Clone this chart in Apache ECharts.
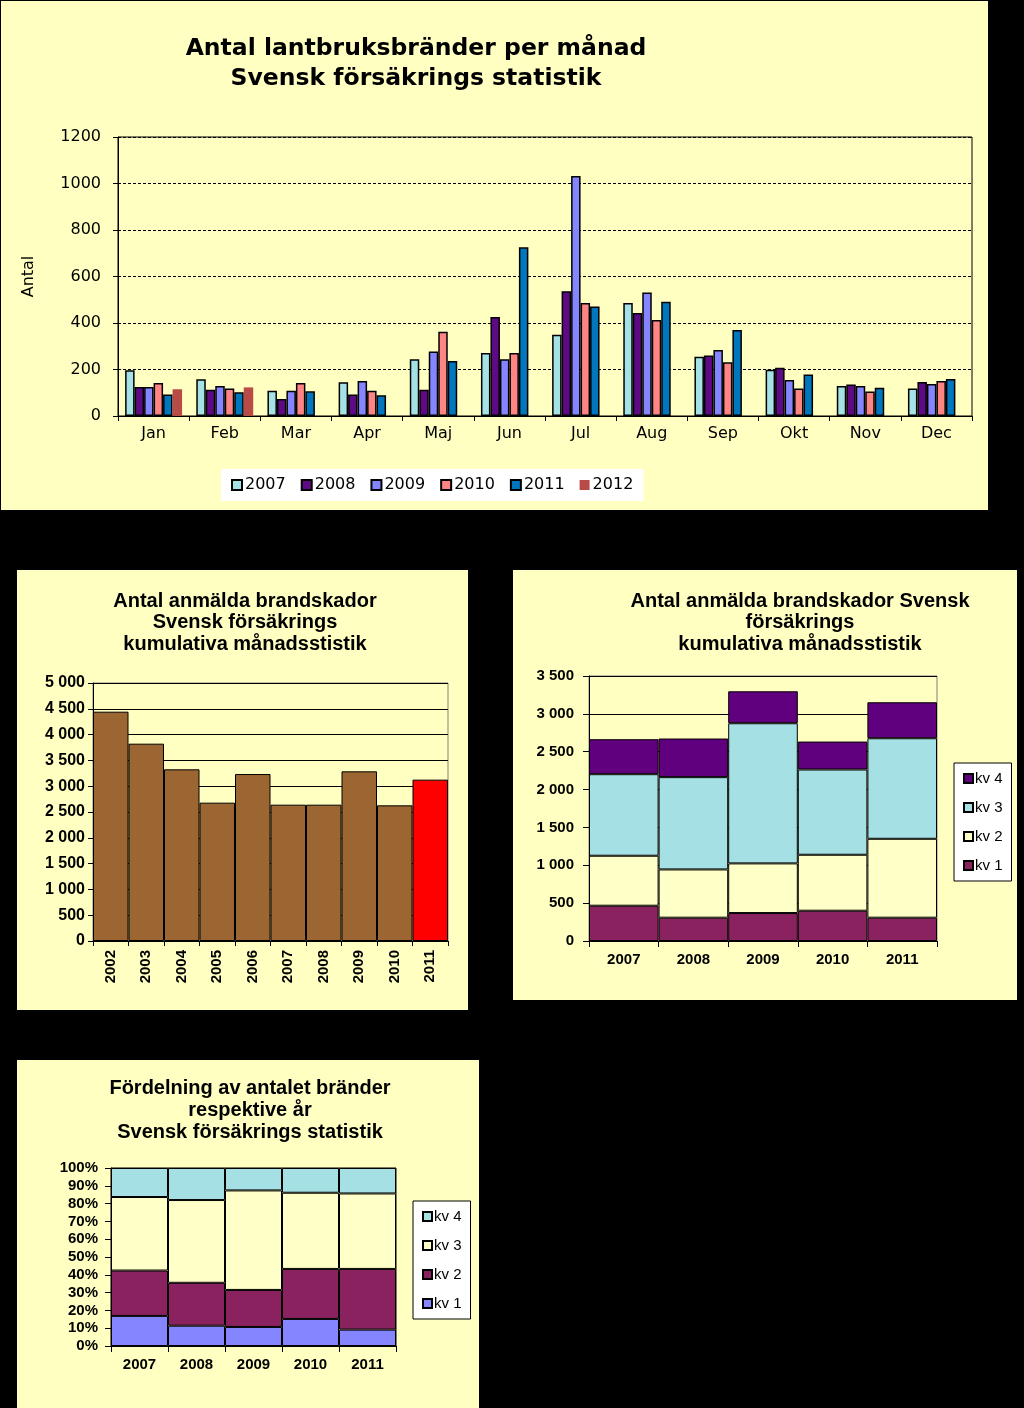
<!DOCTYPE html>
<html><head><meta charset="utf-8">
<script src="https://cdn.jsdelivr.net/npm/echarts@6/dist/echarts.min.js"></script>
<style>
html,body{margin:0;padding:0;background:#000;width:1024px;height:1408px;overflow:hidden}
.p{position:absolute;}
</style></head><body>
<div id="c1" class="p" style="left:1px;top:1px;width:987px;height:509px"></div>
<div id="c2" class="p" style="left:17px;top:570px;width:451px;height:440px"></div>
<div id="c3" class="p" style="left:513px;top:570px;width:504px;height:430px"></div>
<div id="c4" class="p" style="left:17px;top:1060px;width:462px;height:348px"></div>
<script>
// ---------- data: chart 1 ----------
const months = ['Jan','Feb','Mar','Apr','Maj','Jun','Jul','Aug','Sep','Okt','Nov','Dec'];
const years1 = ['2007','2008','2009','2010','2011','2012'];
const v2007 = [197,158,109,145,244,271,349,486,255,199,129,118];
const v2008 = [125,113,73,93,113,426,537,443,260,207,135,146];
const v2009 = [125,129,109,151,277,244,1032,531,284,155,129,138];
const v2010 = [142,118,142,109,362,271,486,413,231,118,105,151];
const v2011 = [93,102,106,89,237,726,471,491,370,178,122,159];
const v2012 = [115,123,null,null,null,null,null,null,null,null,null,null];

// ---------- data: chart 2 ----------
const years2 = ['2002','2003','2004','2005','2006','2007','2008','2009','2010','2011'];
const totals = [4444,3824,3327,2681,3236,2642,2642,3288,2629,3127];

// ---------- data: chart 3 ----------
const years3 = ['2007','2008','2009','2010','2011'];
const kv1 = [466,308,369,400,308];
const kv2 = [660,637,656,739,1042];
const kv3 = [1077,1219,1851,1126,1328];
const kv4 = [462,510,422,369,475];

// ---------- data: chart 4 (percent) ----------
const p1 = [16.9,11.4,10.7,15.2,9.2];
const p2 = [25.5,24.1,20.8,28.1,34.1];
const p3 = [41.3,46.5,55.9,42.8,42.4];
const p4 = [16.3,18.0,12.6,13.9,14.3];

const BG = '#FFFFC2';
const VER = '"DejaVu Sans", Verdana, sans-serif';
const ARI = '"Liberation Sans", Arial, sans-serif';

function fmtSpace(v){
  if (v >= 1000) return Math.floor(v/1000) + ' ' + String(v % 1000).padStart(3,'0');
  return String(v);
}
function titleLines(lines, cx, y0, dy, font){
  return lines.map((t,i)=>({
    type:'text', x:cx, y:y0 + i*dy, silent:true,
    style:{text:t, font:font, fill:'#000', align:'center', verticalAlign:'middle', textAlign:'center', textVerticalAlign:'middle'}
  }));
}

// ---------- chart 1 ----------
const cols1 = ['#A4E2E6','#5E0A84','#8585FF','#FF8585','#0076BE','#B84A48'];
const vals1 = [v2007,v2008,v2009,v2010,v2011,v2012];
const ch1 = echarts.init(document.getElementById('c1'));
ch1.setOption({
  backgroundColor: BG,
  animation:false,
  graphic: titleLines(['Antal lantbruksbränder per månad','Svensk försäkrings statistik'], 415, 48, 30, 'bold 23.5px ' + VER),
  legend: {
    data: years1, left: 220, top: 468, orient:'horizontal',
    backgroundColor:'#fff', padding:[8,10,8,10], itemGap:15,
    itemWidth:10, itemHeight:10, icon:'rect',
    textStyle:{fontFamily:VER, fontSize:16, color:'#000', padding:[0,0,0,-2]}
  },
  grid: {left:117, top:136, width:854, height:279, show:true, borderColor:'#000', borderWidth:1, backgroundColor:'transparent'},
  xAxis: {
    type:'category', data: months,
    axisLine:{lineStyle:{color:'#000', width:1}},
    axisTick:{show:true, length:5, lineStyle:{color:'#000'}},
    axisLabel:{interval:0, color:'#000', fontFamily:VER, fontSize:16, margin:10}
  },
  yAxis: {
    type:'value', min:0, max:1200, interval:200,
    name:'Antal', nameLocation:'middle', nameGap:81,
    nameTextStyle:{fontFamily:VER, fontSize:16, color:'#000'},
    axisLine:{show:true, lineStyle:{color:'#000'}},
    axisTick:{show:true, length:5, lineStyle:{color:'#000'}},
    axisLabel:{color:'#000', fontFamily:VER, fontSize:16, margin:17, formatter: v => String(v)},
    splitLine:{show:true, lineStyle:{color:'#000', type:[3,2], width:1}}
  },
  series: years1.map((y,i)=>({
    name:y, type:'bar', data: vals1[i],
    barGap:'0%', barCategoryGap:'20%',
    itemStyle:{color:cols1[i], borderColor: i===5 ? cols1[i] : '#000', borderWidth: i===5 ? 0 : 1.5}
  }))
});

// ---------- chart 2 ----------
const ch2 = echarts.init(document.getElementById('c2'));
ch2.setOption({
  backgroundColor: BG,
  animation:false,
  graphic: titleLines(['Antal anmälda brandskador','Svensk försäkrings','kumulativa månadsstistik'], 228, 31, 21.5, 'bold 20px ' + ARI),
  grid: {left:76, top:113, width:355, height:258, show:true, borderColor:'#808080', borderWidth:1, backgroundColor:'transparent'},
  xAxis: {
    type:'category', data: years2,
    axisLine:{lineStyle:{color:'#000', width:1}},
    axisTick:{show:true, length:5, lineStyle:{color:'#000'}},
    axisLabel:{interval:0, rotate:90, color:'#000', fontFamily:ARI, fontWeight:'bold', fontSize:15, margin:9}
  },
  yAxis: {
    type:'value', min:0, max:5000, interval:500,
    axisLine:{show:true, lineStyle:{color:'#000'}},
    axisTick:{show:true, length:5, lineStyle:{color:'#000'}},
    axisLabel:{color:'#000', fontFamily:ARI, fontWeight:'bold', fontSize:16, margin:8, formatter:fmtSpace},
    splitLine:{show:true, lineStyle:{color:'#000', width:1}}
  },
  series: [{
    type:'bar', barCategoryGap:'0%',
    data: totals.map((v,i)=>({value:v, itemStyle:{color: i===totals.length-1 ? '#FF0000' : '#9C6632'}})),
    itemStyle:{borderColor:'#000', borderWidth:1}
  }]
});

// ---------- chart 3 ----------
const ch3 = echarts.init(document.getElementById('c3'));
const cols3 = {'kv 1':'#8A2260','kv 2':'#FFFFC8','kv 3':'#A4E0E4','kv 4':'#60007E'};
const vals3 = {'kv 1':kv1,'kv 2':kv2,'kv 3':kv3,'kv 4':kv4};
ch3.setOption({
  backgroundColor: BG,
  animation:false,
  graphic: titleLines(['Antal anmälda brandskador Svensk','försäkrings','kumulativa månadsstistik'], 287, 31, 21.5, 'bold 20px ' + ARI),
  legend: {
    data:['kv 4','kv 3','kv 2','kv 1'], orient:'vertical', left:441, top:193,
    backgroundColor:'#fff', borderColor:'#000', borderWidth:1, padding:[8,9,8,9], itemGap:14,
    itemWidth:9, itemHeight:9, icon:'rect',
    textStyle:{fontFamily:ARI, fontSize:15, color:'#000', padding:[0,0,0,-3]}
  },
  grid: {left:76, top:106, width:348, height:265, show:true, borderColor:'#808080', borderWidth:1, backgroundColor:'transparent'},
  xAxis: {
    type:'category', data: years3,
    axisLine:{lineStyle:{color:'#000', width:1}},
    axisTick:{show:true, length:6, lineStyle:{color:'#000'}},
    axisLabel:{interval:0, color:'#000', fontFamily:ARI, fontWeight:'bold', fontSize:15, margin:11}
  },
  yAxis: {
    type:'value', min:0, max:3500, interval:500,
    axisLine:{show:true, lineStyle:{color:'#000'}},
    axisTick:{show:true, length:6, lineStyle:{color:'#000'}},
    axisLabel:{color:'#000', fontFamily:ARI, fontWeight:'bold', fontSize:15, margin:15, formatter:fmtSpace},
    splitLine:{show:true, lineStyle:{color:'#000', width:1}}
  },
  series: ['kv 1','kv 2','kv 3','kv 4'].map(k=>({
    name:k, type:'bar', stack:'a', barCategoryGap:'0%', data: vals3[k],
    itemStyle:{color:cols3[k], borderColor:'#000', borderWidth:1}
  }))
});

// ---------- chart 4 ----------
const ch4 = echarts.init(document.getElementById('c4'));
const cols4 = {'kv 1':'#8585FF','kv 2':'#8A2260','kv 3':'#FFFFC8','kv 4':'#A4E0E4'};
const vals4 = {'kv 1':p1,'kv 2':p2,'kv 3':p3,'kv 4':p4};
ch4.setOption({
  backgroundColor: BG,
  animation:false,
  graphic: titleLines(['Fördelning av antalet bränder','respektive år','Svensk försäkrings statistik'], 233, 28, 22, 'bold 20px ' + ARI),
  legend: {
    data:['kv 4','kv 3','kv 2','kv 1'], orient:'vertical', left:396, top:141,
    backgroundColor:'#fff', borderColor:'#000', borderWidth:1, padding:[8,9,8,9], itemGap:14,
    itemWidth:9, itemHeight:9, icon:'rect',
    textStyle:{fontFamily:ARI, fontSize:15, color:'#000', padding:[0,0,0,-3]}
  },
  grid: {left:94, top:108, width:285, height:178, show:true, borderColor:'#000', borderWidth:1, backgroundColor:'transparent'},
  xAxis: {
    type:'category', data: years3,
    axisLine:{lineStyle:{color:'#000', width:1}},
    axisTick:{show:true, length:6, lineStyle:{color:'#000'}},
    axisLabel:{interval:0, color:'#000', fontFamily:ARI, fontWeight:'bold', fontSize:15, margin:11}
  },
  yAxis: {
    type:'value', min:0, max:100, interval:10,
    axisLine:{show:true, lineStyle:{color:'#000'}},
    axisTick:{show:true, length:6, lineStyle:{color:'#000'}},
    axisLabel:{color:'#000', fontFamily:ARI, fontWeight:'bold', fontSize:15, margin:13, formatter:'{value}%'},
    splitLine:{show:false}
  },
  series: ['kv 1','kv 2','kv 3','kv 4'].map(k=>({
    name:k, type:'bar', stack:'a', barCategoryGap:'0%', data: vals4[k],
    itemStyle:{color:cols4[k], borderColor:'#000', borderWidth:1}
  }))
});
</script>
</body></html>
